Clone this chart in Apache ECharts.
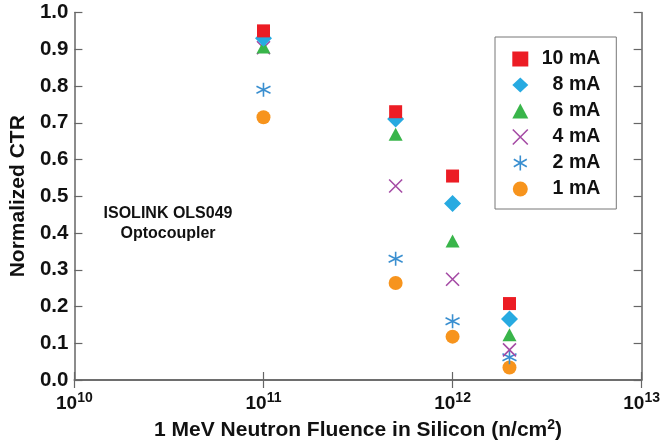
<!DOCTYPE html>
<html><head><meta charset="utf-8">
<script src="https://cdn.jsdelivr.net/npm/echarts@6/dist/echarts.min.js"></script>
<style>html,body{margin:0;padding:0;background:#fff}#c{width:663px;height:447px}</style>
</head><body><div id="c"></div>
<script>
const fluence = [1e11, 5e11, 1e12, 2e12];
const seriesNames = ['10 mA', '8 mA', '6 mA', '4 mA', '2 mA', '1 mA'];
const ctr10 = [0.950, 0.730, 0.555, 0.208];
const ctr8  = [0.930, 0.710, 0.480, 0.166];
const ctr6  = [0.906, 0.669, 0.378, 0.123];
const ctr4  = [0.904, 0.528, 0.274, 0.082];
const ctr2  = [0.790, 0.330, 0.160, 0.062];
const ctr1  = [0.715, 0.264, 0.118, 0.034];
const yTicks = [0.0, 0.1, 0.2, 0.3, 0.4, 0.5, 0.6, 0.7, 0.8, 0.9, 1.0];
const xTickExps = [10, 11, 12, 13];

const allValues = [ctr10, ctr8, ctr6, ctr4, ctr2, ctr1];
const colors = ['#ec1c24', '#27aae1', '#39b54a', '#a54ca5', '#3a8fd0', '#f7941d'];
const symbols = [
  'rect', 'diamond', 'triangle',
  'path://M0,0L10,10M10,0L0,10',
  'path://M5,0L5,10M0.67,2.5L9.33,7.5M0.67,7.5L9.33,2.5',
  'circle'
];
const sizes = [[13,13], [17,17], [14,13], [13,13], [14,14], [14,14]];
const stroked = [false, false, false, true, true, false];
const styleOf = i => stroked[i]
  ? { color: 'rgba(0,0,0,0)', borderColor: colors[i], borderWidth: 1.6, opacity: 1 }
  : { color: colors[i], opacity: 1 };

const series = seriesNames.map((n, i) => ({
  name: n,
  type: 'scatter',
  symbol: symbols[i],
  symbolSize: sizes[i],
  data: fluence.map((f, j) => [f, allValues[i][j]]),
  itemStyle: styleOf(i),
  emphasis: { disabled: true },
  z: 10 - i
}));

const FF = 'Liberation Sans, Arial, Helvetica, sans-serif';
const bold = { fontFamily: FF, fontWeight: 'bold', color: '#111' };
const chart = echarts.init(document.getElementById('c'));
chart.setOption({
  animation: false,
  grid: { left: 74, right: 19, top: 12.5, bottom: 67, show: false },
  legend: {
    orient: 'vertical',
    left: 495, top: 37,
    padding: [12, 16, 10, 17],
    itemGap: 6,
    itemWidth: 16, itemHeight: 15,
    borderColor: '#777', borderWidth: 1,
    data: seriesNames.map((n, i) => ({ name: n, itemStyle: styleOf(i) })),
    formatter: n => '{a|' + n + '}',
    textStyle: {
      rich: { a: Object.assign({ fontSize: 19.5, lineHeight: 19, width: 67, align: 'right' }, bold) }
    }
  },
  xAxis: [{
    type: 'log', logBase: 10, min: 1e10, max: 1e13,
    name: '{t|1 MeV Neutron Fluence in Silicon (n/cm}{s|2}{t|)}',
    nameLocation: 'middle', nameGap: 33,
    nameTextStyle: { rich: {
      t: Object.assign({ fontSize: 21 }, bold),
      s: Object.assign({ fontSize: 14, padding: [0, 0, 11, 0] }, bold)
    } },
    axisLine: { lineStyle: { color: '#666', width: 1.5 } },
    axisTick: { inside: true, length: 8, lineStyle: { color: '#666', width: 1.2 } },
    minorTick: { show: false },
    splitLine: { show: false },
    axisLabel: {
      margin: 11,
      formatter: v => '{b|10}{s|' + Math.round(Math.log10(v)) + '}',
      rich: {
        b: Object.assign({ fontSize: 19 }, bold),
        s: Object.assign({ fontSize: 14, padding: [0, 0, 11, 0] }, bold)
      }
    }
  }, {
    type: 'log', logBase: 10, min: 1e10, max: 1e13, position: 'top',
    axisLine: { lineStyle: { color: '#666', width: 1.5 } },
    axisTick: { inside: true, length: 8, lineStyle: { color: '#666', width: 1.2 } },
    axisLabel: { show: false }, splitLine: { show: false }
  }],
  yAxis: [{
    type: 'value', min: 0, max: 1, interval: 0.1,
    name: 'Normalized CTR', nameLocation: 'middle', nameGap: 43,
    nameTextStyle: Object.assign({ fontSize: 21 }, bold),
    axisLine: { show: true, lineStyle: { color: '#666', width: 1.5 } },
    axisTick: { show: true, inside: true, length: 8, lineStyle: { color: '#666', width: 1.2 } },
    splitLine: { show: false },
    axisLabel: Object.assign({ fontSize: 20.5, margin: 6, formatter: v => v.toFixed(1) }, bold)
  }, {
    type: 'value', min: 0, max: 1, interval: 0.1, position: 'right',
    axisLine: { show: true, lineStyle: { color: '#666', width: 1.5 } },
    axisTick: { show: true, inside: true, length: 8, lineStyle: { color: '#666', width: 1.2 } },
    splitLine: { show: false }, axisLabel: { show: false }
  }],
  graphic: [{
    type: 'text', x: 168, y: 204,
    style: { text: 'ISOLINK OLS049\nOptocoupler', font: 'bold 16px ' + FF, fill: '#111', textAlign: 'center', textVerticalAlign: 'top', lineHeight: 20 }
  }],
  series: series
});
</script></body></html>
